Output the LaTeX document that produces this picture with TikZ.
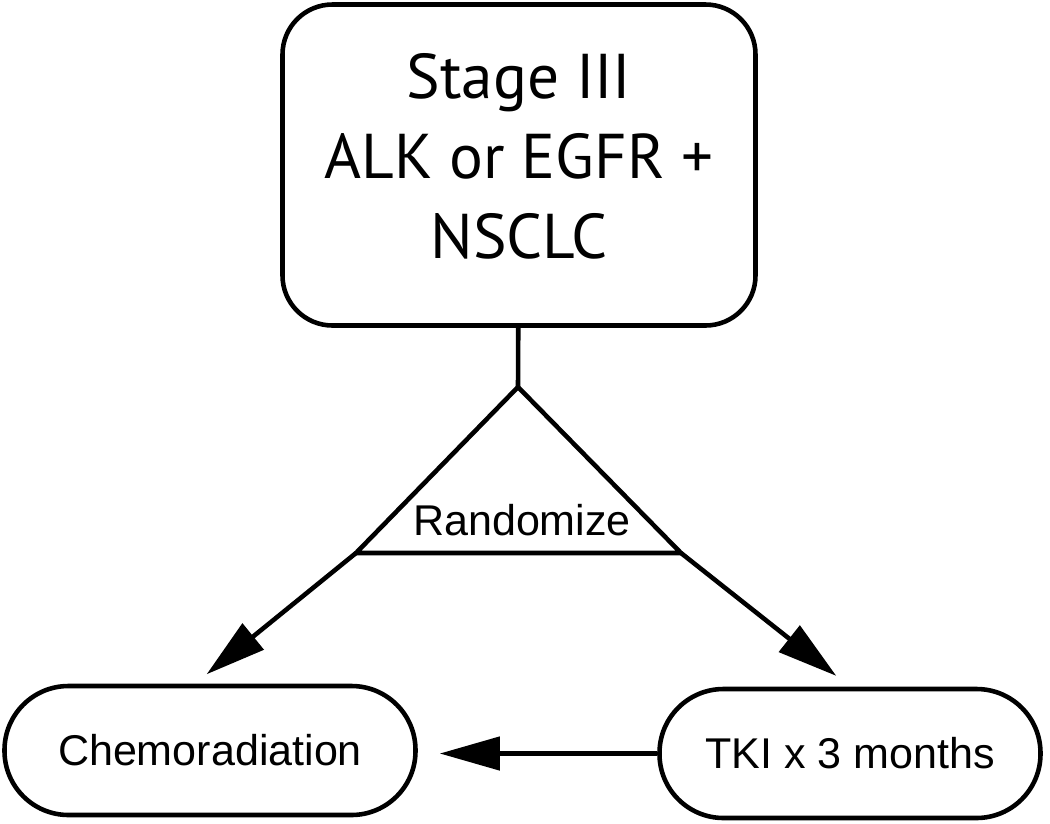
\documentclass[tikz,border=0pt]{standalone}
\usepackage{fontspec}
\setmainfont{Liberation Sans}
\newfontfamily\myriad{PT Sans}
\usetikzlibrary{arrows.meta}

\begin{document}
\begin{tikzpicture}[x=0.2mm,y=-0.2mm,line width=2.6pt,
    pill/.style={draw,rounded corners=1.28cm,minimum height=2.58cm,font=\fontsize{24.5}{29}\selectfont},
    arr/.style={-{Triangle[length=1.2cm,width=0.66cm]},shorten >=0.3cm}]
      \useasboundingbox (0,0) rectangle (1050,823);
      \draw (519,165) node[draw,rounded corners=1cm,minimum width=9.46cm,minimum height=6.42cm,align=center,text depth=0.36cm,font=\myriad\fontsize{36}{45.5}\selectfont](stage) {Stage III\\ALK or EGFR +\\NSCLC};

      \coordinate (apex) at (518,387);
      \coordinate (left) at (356,553);
      \coordinate (right) at (681,553);
      \draw (apex) -- (left) -- (right) -- cycle;
      \draw (522,535) node[anchor=base,inner sep=0pt,font=\fontsize{24.5}{29}\selectfont](rand) {Randomize};

      \draw (210,750.5) node[pill,minimum width=8.22cm](chemo) {Chemoradiation};
      \draw (850,753.5) node[pill,minimum width=7.62cm](tki) {TKI x 3 months};

      \draw (stage) -- (apex);
      \draw[arr] (left) -- ([xshift=-0.3cm]chemo.north);
      \draw[arr,shorten >=0.35cm] (right) -- (tki.north);
      \draw[arr,shorten >=0.44cm] (tki.west) -- (tki.west -| chemo.east);
    \end{tikzpicture}
\end{document}
